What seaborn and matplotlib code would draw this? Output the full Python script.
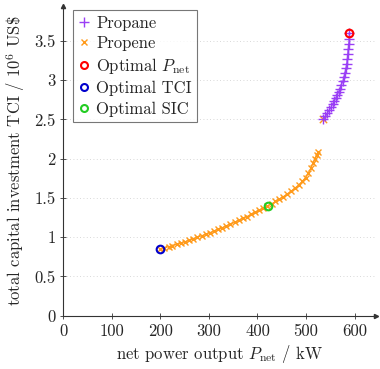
import numpy as np
import seaborn as sns
import matplotlib.pyplot as plt
from matplotlib.lines import Line2D

# Propene branch (orange x)
propene_p = [200, 208, 217, 225, 234, 242, 251, 259, 268, 276, 285, 293, 302, 310,
             319, 327, 336, 344, 353, 361, 370, 378, 387, 395, 404, 412, 420, 429,
             437, 445, 453, 461, 469, 477, 485, 492, 499, 505, 510, 514, 518, 522, 525]
propene_tci = [0.850, 0.864, 0.879, 0.894, 0.911, 0.926, 0.944, 0.961, 0.980, 0.998,
               1.018, 1.037, 1.058, 1.078, 1.100, 1.121, 1.144, 1.166, 1.191, 1.214,
               1.240, 1.263, 1.290, 1.315, 1.343, 1.369, 1.395, 1.425, 1.455, 1.485,
               1.515, 1.550, 1.585, 1.625, 1.665, 1.710, 1.760, 1.820, 1.880, 1.940,
               2.000, 2.050, 2.090]
propene_extra_p = [535]
propene_extra_tci = [2.50]

# Propane branch (purple +)
propane_p = [536, 540, 544, 548, 552, 555, 558, 561, 564, 567, 570, 573, 576, 578,
             580, 582, 584, 585, 586, 587, 588, 589, 589.5]
propane_tci = [2.50, 2.54, 2.58, 2.62, 2.66, 2.70, 2.73, 2.77, 2.81, 2.85, 2.89, 2.94,
               2.99, 3.04, 3.09, 3.15, 3.21, 3.27, 3.33, 3.40, 3.46, 3.52, 3.60]

# optimal points
opt_labels = ["Optimal $P_\\mathrm{net}$", "Optimal TCI", "Optimal SIC"]
opt_p = [589.5, 200, 421]
opt_tci = [3.60, 0.85, 1.395]
opt_colors = ["#ff0000", "#0000cc", "#22cc22"]

c_propane = "#9a3ff5"
c_propene = "#ff9a1a"

sns.set_style("white")
plt.rcParams["font.family"] = "serif"
plt.rcParams["font.serif"] = ["cmr10", "DejaVu Serif"]
plt.rcParams["mathtext.fontset"] = "cm"
plt.rcParams["axes.formatter.use_mathtext"] = True
plt.rcParams["axes.unicode_minus"] = False

fig = plt.figure(figsize=(3.8, 3.69), dpi=100)
ax = fig.add_axes([0.1665, 0.1444, 0.824, 0.8404])

sns.lineplot(x=propene_p, y=propene_tci, ax=ax, color=c_propene, marker="x",
             markersize=5, markeredgewidth=1.0, markeredgecolor=c_propene,
             linewidth=0.8, sort=False, estimator=None)
sns.scatterplot(x=propene_extra_p, y=propene_extra_tci, ax=ax, color=c_propene,
                marker="x", s=28, linewidth=1.0)
sns.lineplot(x=propane_p, y=propane_tci, ax=ax, color=c_propane, marker="+",
             markersize=7, markeredgewidth=1.0, markeredgecolor=c_propane,
             linewidth=0.8, sort=False, estimator=None)
for px, py, c in zip(opt_p, opt_tci, opt_colors):
    ax.plot(px, py, "o", mfc="none", mec=c, mew=1.5, ms=5.5, zorder=5)

ax.set_xlim(0, 645)
ax.set_ylim(0, 3.95)
ax.set_xticks([0, 100, 200, 300, 400, 500, 600])
ax.set_yticks([0, 0.5, 1, 1.5, 2, 2.5, 3, 3.5])
ax.set_yticklabels(["0", "0.5", "1", "1.5", "2", "2.5", "3", "3.5"])
ax.set_xticklabels(["0", "100", "200", "300", "400", "500", "600"])

for yv in [0.5, 1, 1.5, 2, 2.5, 3, 3.5]:
    ax.axhline(yv, color="#cccccc", lw=0.6, ls=(0, (1, 3)), zorder=0)

for s in ["top", "right"]:
    ax.spines[s].set_visible(False)
for s in ["left", "bottom"]:
    ax.spines[s].set_color("#333333")
    ax.spines[s].set_linewidth(0.8)
ax.tick_params(direction="inout", length=5, width=0.6, color="#333333",
               labelsize=12, pad=3, bottom=True, left=True)
ax.plot(1, 0, ">", color="#333333", ms=3, transform=ax.transAxes, clip_on=False)
ax.plot(0, 1, "^", color="#333333", ms=3, transform=ax.transAxes, clip_on=False)

ax.set_xlabel("net power output $P_\\mathrm{net}$ / kW", fontsize=12, labelpad=3)
ax.set_ylabel("total capital investment TCI / $10^6$ US\\$", fontsize=12, labelpad=5)

handles = [
    Line2D([], [], ls="none", marker="+", color=c_propane, ms=7, mew=1.0),
    Line2D([], [], ls="none", marker="x", color=c_propene, ms=5, mew=1.0),
] + [Line2D([], [], ls="none", marker="o", mfc="none", mec=c, mew=1.5, ms=5)
     for c in opt_colors]
leg = ax.legend(handles, ["Propane", "Propene"] + opt_labels, loc="upper left",
                bbox_to_anchor=(0.03, 0.985), borderaxespad=0, fontsize=12,
                frameon=True, fancybox=False, handlelength=0.8, handletextpad=0.3,
                labelspacing=0.3, borderpad=0.3)
leg.get_frame().set_edgecolor("#555555")
leg.get_frame().set_linewidth(0.8)

fig.savefig("out.png", dpi=100)
